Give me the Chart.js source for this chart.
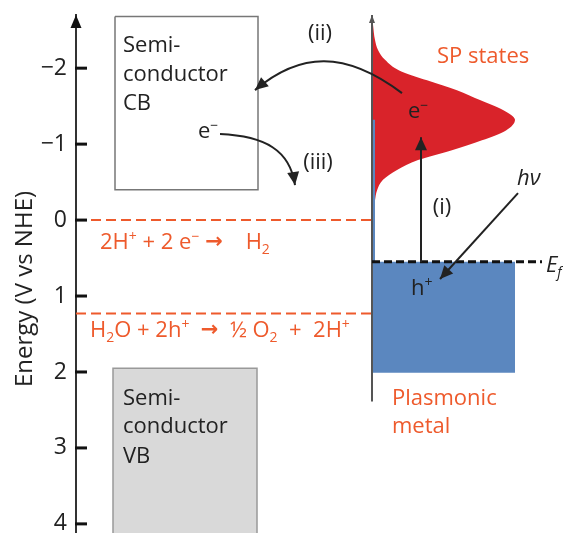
<!DOCTYPE html>
<html>
<head>
<meta charset="utf-8">
<script src="https://cdn.jsdelivr.net/npm/chart.js@4.4.1/dist/chart.umd.min.js"></script>
<style>
  html, body { margin: 0; padding: 0; background: #fff; }
  #wrap { width: 563px; height: 533px; }
</style>
</head>
<body>
<div id="wrap"><canvas id="chart"></canvas></div>
<script>
// ============================================================
// Band diagram: semiconductor vs plasmonic metal (V vs NHE)
// ============================================================
Chart.defaults.font.family = '"Open Sans", Arial, sans-serif';
Chart.defaults.color = '#222';

// ── data (energies in V vs NHE) ──────────────────────────────
const yTicks          = [-2, -1, 0, 1, 2, 3, 4];
const axisRange       = [-2.7, 4.12];
const redoxPotentials = [0, 1.23];
const cbEdges         = [-2.68, -0.4];   // semiconductor CB box: top, bottom
const vbEdges         = [1.95, 4.5];     // semiconductor VB box (runs off bottom)
const fermiLevel      = [0.55];
const metalBand       = [0.55, 2.01];    // filled states of the metal
const spEnergy  = [-2.70, -2.57, -2.37, -2.24, -2.11, -1.97, -1.84, -1.71, -1.58, -1.45, -1.32,
                   -1.18, -1.05, -0.92, -0.79, -0.66, -0.53, -0.39, -0.26, -0.07, 0.13];
const spDensity = [0, 0.007, 0.021, 0.042, 0.091, 0.19, 0.385, 0.594, 0.755, 0.916, 1,
                   0.937, 0.769, 0.559, 0.322, 0.175, 0.077, 0.035, 0.021, 0.007, 0];

// ── schematic horizontal layout (x units, 0 = energy axis) ───
const X_MAX      = 487;
const boxCB      = [39, 182];
const boxVB      = [37, 181];
const metalAxis  = 296;
const bandRight  = 439;
const fermiRight = 466;
const dosWidth   = 143;   // peak of SP states = width of metal band

const ORANGE = '#ee5a2c';
const RED    = '#d9232a';
const BLUE   = '#5b87bf';
const INK    = '#222';

const pts = (xs, ys) => xs.map((x, i) => ({ x, y: ys[i] }));

// labels: text with ^{sup} / _{sub}, anchored at data coords (baseline)
const labels = [
  { t: 'Semi-',     x: 47, y: -2.21 },
  { t: 'conductor', x: 47, y: -1.83 },
  { t: 'CB',        x: 47, y: -1.45 },
  { t: 'Semi-',     x: 47, y: 2.43 },
  { t: 'conductor', x: 47, y: 2.80 },
  { t: 'VB',        x: 47, y: 3.20 },
  { t: 'e^{−}',     x: 122, y: -1.08 },
  { t: '(ii)',      x: 244, y: -2.37, align: 'center' },
  { t: '(iii)',     x: 242, y: -0.67, align: 'center' },
  { t: '(i)',       x: 366, y: -0.08, align: 'center' },
  { t: 'SP states', x: 361, y: -2.07, color: ORANGE },
  { t: 'e^{−}',     x: 332, y: -1.34 },
  { t: 'hν',        x: 441, y: -0.46, italic: true },
  { t: 'h^{+}',     x: 335, y: 0.99 },
  { t: 'E_{f}',     x: 470, y: 0.68, italic: true },
  { t: 'Plasmonic', x: 316, y: 2.43, color: ORANGE },
  { t: 'metal',     x: 316, y: 2.80, color: ORANGE },
  { t: '2H^{+} + 2 e^{−} →    H_{2}',              x: 24, y: 0.38, color: ORANGE },
  { t: 'H_{2}O + 2h^{+}  →  ½ O_{2}  +  2H^{+}',   x: 14, y: 1.54, color: ORANGE },
];

// arrows: straight (2 pts) or cubic (4 pts), data coords
const arrows = [
  [[345, 0.553], [345, -1.092]],                                   // (i)
  [[442, -0.355], [364, 0.776]],                                   // hν
  [[326, -1.671], [269, -2.237], [224, -2.211], [179, -1.711]],    // (ii)
  [[144, -1.132], [189, -1.105], [214, -0.921], [219, -0.461]],    // (iii)
];

function parseRich(str) {
  const out = [];
  const re = /([\^_])\{([^}]*)\}|(→)/g;
  let last = 0, m;
  while ((m = re.exec(str))) {
    if (m.index > last) out.push([str.slice(last, m.index), '']);
    if (m[3]) out.push([m[3], '>']);
    else out.push([m[2], m[1]]);
    last = re.lastIndex;
  }
  if (last < str.length) out.push([str.slice(last), '']);
  return out;
}

function drawRich(ctx, x, y, str, opt) {
  const size = 22;
  const fam = Chart.defaults.font.family;
  const fontFor = k => k === '>' ? 'bold 21px "DejaVu Sans", sans-serif'
    : `${opt.italic ? 'italic ' : ''}${k ? 14 : size}px ${fam}`;
  const parts = parseRich(str);
  let total = 0;
  parts.forEach(([t, k]) => { ctx.font = fontFor(k); total += ctx.measureText(t).width; });
  let cx = opt.align === 'center' ? x - total / 2 : x;
  ctx.fillStyle = opt.color || INK;
  ctx.textAlign = 'left';
  ctx.textBaseline = 'alphabetic';
  parts.forEach(([t, k]) => {
    ctx.font = fontFor(k);
    const dy = k === '^' ? -8 : k === '_' ? 5 : k === '>' ? -1 : 0;
    ctx.fillText(t, cx, y + dy);
    cx += ctx.measureText(t).width;
  });
}

function head(ctx, x, y, ang, len, half) {
  ctx.beginPath();
  ctx.moveTo(x, y);
  ctx.lineTo(x - len * Math.cos(ang) + half * Math.sin(ang), y - len * Math.sin(ang) - half * Math.cos(ang));
  ctx.lineTo(x - len * Math.cos(ang) - half * Math.sin(ang), y - len * Math.sin(ang) + half * Math.cos(ang));
  ctx.closePath();
  ctx.fill();
}

const decor = {
  id: 'decor',
  afterDraw(chart) {
    const { ctx, scales: { x, y }, chartArea } = chart;
    const P = ([a, b]) => [x.getPixelForValue(a), y.getPixelForValue(b)];
    ctx.save();

    // inward ticks + arrowhead on the energy axis
    ctx.fillStyle = '#111';
    yTicks.forEach(v => {
      const py = y.getPixelForValue(v);
      ctx.fillRect(x.getPixelForValue(0) - 1, py - 1.5, 12, 3);
    });
    head(ctx, chartArea.left, chartArea.top, -Math.PI / 2, 13, 5.5);
    // arrowhead on the metal DOS axis
    ctx.fillStyle = '#555';
    head(ctx, x.getPixelForValue(metalAxis), chartArea.top, -Math.PI / 2, 8, 3);

    // axis title
    ctx.save();
    ctx.translate(25, 289);
    ctx.rotate(-Math.PI / 2);
    ctx.font = `24px ${Chart.defaults.font.family}`;
    ctx.fillStyle = INK;
    ctx.textAlign = 'center';
    ctx.textBaseline = 'middle';
    ctx.fillText('Energy (V vs NHE)', 0, 0);
    ctx.restore();

    // process arrows
    ctx.strokeStyle = INK;
    ctx.fillStyle = INK;
    ctx.lineWidth = 2;
    arrows.forEach(a => {
      const p = a.map(P);
      ctx.beginPath();
      ctx.moveTo(p[0][0], p[0][1]);
      if (p.length === 2) ctx.lineTo(p[1][0], p[1][1]);
      else ctx.bezierCurveTo(p[1][0], p[1][1], p[2][0], p[2][1], p[3][0], p[3][1]);
      ctx.stroke();
      const e = p[p.length - 1], s = p[p.length - 2];
      head(ctx, e[0], e[1], Math.atan2(e[1] - s[1], e[0] - s[0]), 13, 6);
    });

    // labels
    labels.forEach(l => {
      const [px, py] = P([l.x, l.y]);
      drawRich(ctx, px, py, l.t, l);
    });
    ctx.restore();
  }
};

// datasets listed top-most first (Chart.js draws the last one first)
new Chart(document.getElementById('chart'), {
  type: 'line',
  data: {
    datasets: [
      { // Fermi level
        data: pts([metalAxis, fermiRight], [fermiLevel[0], fermiLevel[0]]),
        borderColor: '#111', borderWidth: 3, borderDash: [8, 4]
      },
      { // metal DOS axis
        data: pts([metalAxis, metalAxis], [axisRange[0], 2.39]),
        borderColor: '#555', borderWidth: 2
      },
      { // thin blue strip along the axis
        data: pts([metalAxis + 2, metalAxis + 2], [spEnergy[10], fermiLevel[0]]),
        borderColor: BLUE, borderWidth: 2
      },
      { // SP states
        indexAxis: 'y',
        data: pts(spDensity.map(d => metalAxis + d * dosWidth), spEnergy),
        cubicInterpolationMode: 'monotone',
        borderWidth: 0, borderColor: RED, backgroundColor: RED,
        fill: { value: metalAxis }
      },
      { // filled metal band
        data: pts([metalAxis, metalAxis, bandRight, bandRight],
                  [metalBand[1], metalBand[0], metalBand[0], metalBand[1]]),
        borderWidth: 0, borderColor: BLUE, backgroundColor: BLUE,
        fill: { value: metalBand[1] }
      },
      ...redoxPotentials.map(v => ({
        data: pts([0, metalAxis], [v, v]),
        borderColor: ORANGE, borderWidth: 2, borderDash: [10, 5]
      })),
      { // semiconductor CB
        data: pts([boxCB[0], boxCB[1], boxCB[1], boxCB[0], boxCB[0]],
                  [cbEdges[0], cbEdges[0], cbEdges[1], cbEdges[1], cbEdges[0]]),
        borderColor: '#777', borderWidth: 1.5
      },
      { // semiconductor VB
        data: pts([boxVB[0], boxVB[0], boxVB[1], boxVB[1]],
                  [vbEdges[1], vbEdges[0], vbEdges[0], vbEdges[1]]),
        borderColor: '#999', borderWidth: 1.5, backgroundColor: '#d9d9d9',
        fill: { value: vbEdges[1] }
      }
    ]
  },
  options: {
    responsive: true,
    maintainAspectRatio: false,
    animation: false,
    devicePixelRatio: 1,
    layout: { padding: { top: 15, right: 0, bottom: 0, left: 0 } },
    elements: { point: { radius: 0 }, line: { tension: 0 } },
    plugins: { legend: { display: false }, tooltip: { enabled: false } },
    scales: {
      x: { type: 'linear', min: 0, max: X_MAX, display: false },
      y: {
        type: 'linear', reverse: true,
        min: axisRange[0], max: axisRange[1],
        afterFit: s => { s.width = 76; s.paddingTop = 0; s.paddingBottom = 0; },
        afterBuildTicks: s => { s.ticks = yTicks.map(v => ({ value: v })); },
        border: { display: true, color: '#333', width: 2 },
        grid: { display: true, drawOnChartArea: false, drawTicks: false },
        ticks: {
          padding: 9,
          color: INK,
          font: { size: 23 },
          callback: v => v < 0 ? '−' + Math.abs(v) : String(v)
        }
      }
    }
  },
  plugins: [decor]
});
</script>
</body>
</html>
